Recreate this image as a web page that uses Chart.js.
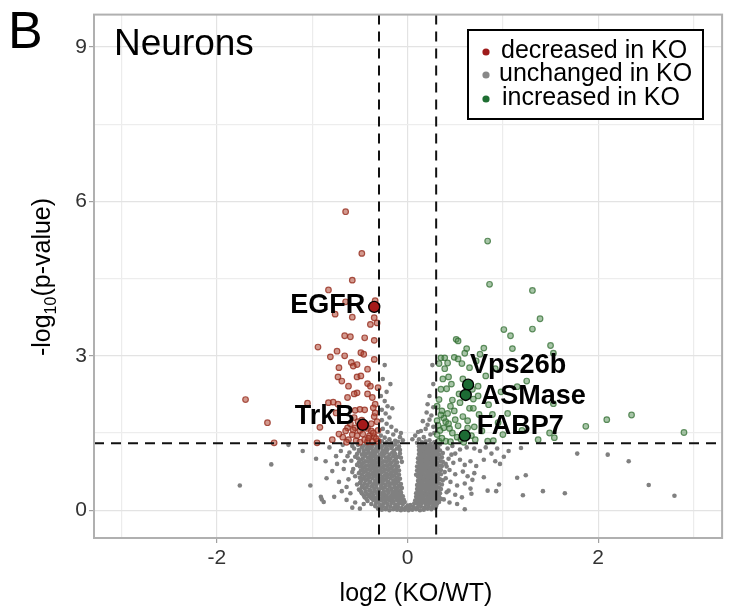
<!DOCTYPE html>
<html><head><meta charset="utf-8">
<script src="https://cdn.jsdelivr.net/npm/chart.js@4.4.1/dist/chart.umd.min.js"></script>
<style>html,body{margin:0;padding:0;background:#fff;}canvas{display:block;}</style>
</head><body>
<canvas id="c" width="729" height="611"></canvas>
<script>
const panelLetter = 'B';
const panelTitle = 'Neurons';
const xTitle = 'log2 (KO/WT)';
const legendLabels = ['decreased in KO', 'unchanged in KO', 'increased in KO'];
const xTickLabels = [-2, 0, 2];
const yTickLabels = [0, 3, 6, 9];
const foldCut = [-0.3, 0.3];
const pCut = 1.3;

const decreased = [
[-0.65,5.80],[-0.48,4.99],[-0.58,4.47],[-0.83,4.28],[-0.65,4.05],[-0.34,4.07],[-0.76,3.81],[-0.58,3.75],[-0.35,3.74],[-0.32,3.64],
[-0.39,3.61],[-0.66,3.39],[-0.60,3.37],[-0.45,3.35],[-0.35,3.30],[-0.94,3.17],[-0.74,3.09],[-0.49,3.06],[-0.46,3.03],[-0.81,2.98],
[-0.66,3.00],[-0.35,2.93],[-0.59,2.87],[-0.53,2.83],[-0.57,2.80],[-0.72,2.77],[-0.42,2.74],[-0.73,2.59],[-0.53,2.59],[-0.49,2.61],
[-0.69,2.51],[-0.42,2.46],[-0.62,2.41],[-0.39,2.41],[-0.31,2.38],[-0.53,2.28],[-0.56,2.26],[-0.42,2.26],[-1.70,2.15],[-0.63,2.19],
[-0.37,2.19],[-1.05,2.08],[-0.83,2.09],[-0.78,2.10],[-0.73,2.06],[-0.34,2.06],[-0.36,1.99],[-0.50,1.96],[-0.45,1.95],[-0.55,1.94],
[-0.75,1.89],[-0.34,1.89],[-1.47,1.70],[-0.52,1.72],[-0.92,1.61],[-0.63,1.60],[-0.55,1.60],[-0.42,1.59],[-0.57,1.56],[-0.50,1.55],
[-0.65,1.54],[-0.38,1.54],[-0.79,1.37],[-0.62,1.37],[-0.45,1.37],[-0.35,1.43],[-1.40,1.31],[-0.95,1.31],[-0.54,1.35],[-0.42,1.33],
[-0.31,1.34],[-0.50,1.32],[-0.64,1.32],[-0.40,1.45],[-0.36,1.50],[-0.47,1.48],[-0.58,1.47],[-0.33,1.39],[-0.44,1.62],[-0.38,1.68],
[-0.48,1.75],[-0.56,1.80],[-0.68,1.42],[-0.72,1.48],[-0.35,1.82],[-0.31,1.55],[-0.32,1.72],[-0.60,1.68],[-0.41,1.40],[-0.53,1.45],
[-0.37,1.33]
];

const increased = [
[0.84,5.23],[0.86,4.39],[1.31,4.27],[1.39,3.72],[1.01,3.51],[1.31,3.52],[1.08,3.39],[0.51,3.32],[0.53,3.29],[1.50,3.20],
[0.80,3.15],[0.62,3.14],[1.10,3.14],[1.53,3.05],[0.35,2.96],[0.39,2.96],[0.49,2.97],[0.53,2.94],[0.76,3.03],[0.33,2.85],
[0.42,2.86],[0.57,2.85],[0.65,2.77],[0.39,2.75],[0.43,2.59],[0.82,2.61],[1.25,2.51],[0.35,2.35],[0.41,2.36],[0.74,2.41],
[0.54,2.26],[0.74,2.22],[0.47,2.14],[0.55,2.09],[0.69,2.16],[1.53,2.07],[0.31,2.02],[0.45,2.02],[0.65,1.98],[0.69,1.98],
[0.36,1.93],[0.42,1.88],[0.49,1.93],[0.75,1.86],[0.89,1.86],[2.35,1.85],[2.09,1.76],[1.87,1.63],[0.31,1.74],[0.40,1.72],
[0.50,1.76],[0.63,1.74],[0.38,1.60],[0.44,1.59],[0.53,1.64],[0.63,1.60],[0.78,1.54],[1.00,1.47],[1.49,1.50],[1.54,1.41],
[1.37,1.37],[2.90,1.51],[0.31,1.47],[0.40,1.34],[0.52,1.42],[0.71,1.37],[0.84,1.34],[0.90,1.35],[0.33,1.34],[0.45,1.33],
[0.59,1.32],[0.38,1.79],[0.34,1.55],[0.36,1.40],[0.47,1.50],[0.56,1.38],[0.67,1.45],[0.70,1.62],[0.58,1.82],[0.33,2.15],
[0.37,2.55],[0.46,2.45],[0.58,2.55],[0.68,2.35],[0.85,2.05],[0.95,1.70],[1.05,1.88],[1.20,1.55],[0.98,2.30],[0.60,3.05],
[0.72,2.90],[0.92,2.75],[1.15,2.40],[0.32,1.65],[0.43,1.68],[0.35,1.85]
];

const unchanged = [
[-0.31,0.03],[-0.27,0.01],[-0.23,0.02],[-0.19,0.00],[-0.15,0.02],[-0.11,0.01],[-0.07,0.00],[-0.03,0.01],[0.01,0.00],[0.05,0.01],
[0.09,0.02],[0.13,0.00],[0.17,0.01],[0.21,0.03],[0.25,0.02],[0.29,0.04],
[-0.34,0.08],[-0.30,0.06],[-0.26,0.07],[-0.22,0.05],[-0.18,0.07],[-0.14,0.05],[-0.10,0.06],[-0.06,0.04],[-0.02,0.05],[0.02,0.04],
[0.06,0.06],[0.10,0.05],[0.14,0.07],[0.18,0.05],[0.22,0.07],[0.26,0.06],[0.30,0.08],[0.00,0.09],[0.03,0.10],
[-0.38,0.12],[-0.33,0.14],[-0.29,0.11],[-0.25,0.13],[-0.21,0.12],[-0.17,0.14],[-0.13,0.11],[-0.09,0.13],[-0.05,0.12],
[-0.42,0.18],[-0.36,0.20],[-0.31,0.17],[-0.27,0.19],[-0.23,0.18],[-0.19,0.20],[-0.15,0.17],[-0.11,0.19],[-0.07,0.18],[-0.03,0.16],
[-0.45,0.25],[-0.40,0.27],[-0.35,0.24],[-0.31,0.26],[-0.26,0.25],[-0.22,0.27],[-0.18,0.24],[-0.14,0.26],[-0.10,0.25],[-0.06,0.23],
[-0.48,0.33],[-0.42,0.31],[-0.37,0.34],[-0.32,0.32],[-0.28,0.33],[-0.24,0.31],[-0.20,0.34],[-0.15,0.32],[-0.11,0.33],[-0.07,0.31],
[-0.51,0.40],[-0.45,0.42],[-0.40,0.39],[-0.35,0.41],[-0.30,0.40],[-0.26,0.42],[-0.21,0.39],[-0.17,0.41],[-0.12,0.40],[-0.08,0.38],
[-0.53,0.50],[-0.47,0.48],[-0.42,0.49],[-0.37,0.47],[-0.33,0.50],[-0.28,0.48],[-0.23,0.49],[-0.19,0.47],[-0.14,0.50],[-0.09,0.48],
[-0.49,0.56],[-0.44,0.58],[-0.39,0.55],[-0.34,0.57],[-0.29,0.56],[-0.25,0.58],[-0.20,0.55],[-0.15,0.57],[-0.10,0.56],
[-0.55,0.66],[-0.50,0.63],[-0.45,0.65],[-0.40,0.64],[-0.35,0.66],[-0.31,0.63],[-0.26,0.65],[-0.21,0.64],[-0.16,0.66],[-0.11,0.63],
[-0.51,0.72],[-0.46,0.74],[-0.41,0.71],[-0.36,0.73],[-0.32,0.72],[-0.27,0.74],[-0.22,0.71],[-0.17,0.73],[-0.12,0.72],
[-0.57,0.80],[-0.47,0.82],[-0.42,0.79],[-0.37,0.81],[-0.33,0.80],[-0.28,0.82],[-0.23,0.79],[-0.18,0.81],[-0.12,0.80],
[-0.53,0.88],[-0.48,0.90],[-0.43,0.87],[-0.38,0.89],[-0.34,0.88],[-0.29,0.90],[-0.24,0.87],[-0.19,0.89],[-0.13,0.88],
[-0.59,0.96],[-0.49,0.98],[-0.44,0.95],[-0.39,0.97],[-0.35,0.96],[-0.30,0.98],[-0.25,0.95],[-0.20,0.97],[-0.14,0.96],
[-0.55,1.04],[-0.45,1.06],[-0.40,1.03],[-0.36,1.05],[-0.31,1.04],[-0.26,1.06],[-0.21,1.03],[-0.15,1.05],[-0.10,1.04],
[-0.61,1.12],[-0.51,1.14],[-0.46,1.11],[-0.41,1.13],[-0.37,1.12],[-0.32,1.14],[-0.27,1.11],[-0.22,1.13],[-0.16,1.12],
[-0.56,1.20],[-0.48,1.22],[-0.43,1.19],[-0.38,1.21],[-0.33,1.20],[-0.28,1.22],[-0.23,1.19],[-0.17,1.21],[-0.11,1.20],
[-0.52,1.27],[-0.44,1.28],[-0.39,1.26],[-0.34,1.29],[-0.29,1.27],[-0.24,1.28],[-0.19,1.26],[-0.13,1.28],
[-0.43,0.22],[-0.38,0.23],[-0.33,0.21],[-0.29,0.22],[-0.24,0.23],[-0.20,0.21],[-0.16,0.22],[-0.12,0.23],[-0.08,0.21],[-0.04,0.20],
[-0.46,0.29],[-0.40,0.30],[-0.36,0.28],[-0.30,0.29],[-0.26,0.30],[-0.22,0.28],[-0.17,0.29],[-0.13,0.30],[-0.09,0.28],[-0.05,0.27],
[-0.49,0.37],[-0.44,0.36],[-0.39,0.38],[-0.34,0.36],[-0.30,0.37],[-0.25,0.36],[-0.21,0.38],[-0.16,0.36],[-0.12,0.37],[-0.07,0.35],
[-0.48,0.45],[-0.43,0.44],[-0.38,0.46],[-0.33,0.44],[-0.28,0.45],[-0.24,0.44],[-0.19,0.46],[-0.14,0.44],[-0.10,0.45],[-0.06,0.43],
[-0.50,0.53],[-0.45,0.52],[-0.40,0.54],[-0.35,0.52],[-0.31,0.53],[-0.26,0.52],[-0.21,0.54],[-0.17,0.52],[-0.12,0.53],[-0.07,0.51],
[-0.47,0.61],[-0.42,0.60],[-0.37,0.62],[-0.32,0.60],[-0.28,0.61],[-0.23,0.60],[-0.18,0.62],[-0.13,0.60],[-0.08,0.61],
[-0.48,0.69],[-0.43,0.68],[-0.38,0.70],[-0.33,0.68],[-0.29,0.69],[-0.24,0.68],[-0.19,0.70],[-0.14,0.68],[-0.09,0.69],
[-0.49,0.77],[-0.44,0.76],[-0.39,0.78],[-0.34,0.76],[-0.30,0.77],[-0.25,0.76],[-0.20,0.78],[-0.15,0.76],[-0.09,0.77],
[-0.50,0.85],[-0.45,0.84],[-0.40,0.86],[-0.36,0.84],[-0.31,0.85],[-0.26,0.84],[-0.21,0.86],[-0.16,0.84],[-0.10,0.85],
[-0.51,0.93],[-0.46,0.92],[-0.41,0.94],[-0.37,0.92],[-0.32,0.93],[-0.27,0.92],[-0.22,0.94],[-0.17,0.92],[-0.11,0.93],[-0.06,0.94],
[-0.52,1.01],[-0.47,1.00],[-0.42,1.02],[-0.38,1.00],[-0.33,1.01],[-0.28,1.00],[-0.23,1.02],[-0.18,1.00],[-0.12,1.01],[-0.07,1.02],
[-0.53,1.09],[-0.48,1.08],[-0.43,1.10],[-0.39,1.08],[-0.34,1.09],[-0.29,1.08],[-0.24,1.10],[-0.19,1.08],[-0.13,1.09],[-0.08,1.10],
[-0.51,1.17],[-0.46,1.16],[-0.41,1.18],[-0.36,1.16],[-0.31,1.17],[-0.26,1.16],[-0.21,1.18],[-0.14,1.16],[-0.08,1.17],
[-0.47,1.24],[-0.42,1.23],[-0.37,1.25],[-0.32,1.23],[-0.27,1.24],[-0.22,1.23],[-0.16,1.25],[-0.09,1.24],
[0.07,0.13],[0.11,0.12],[0.15,0.14],[0.19,0.12],[0.23,0.13],[0.27,0.11],[0.31,0.13],
[0.08,0.19],[0.12,0.18],[0.16,0.20],[0.20,0.18],[0.24,0.19],[0.28,0.17],[0.32,0.19],[0.38,0.21],
[0.09,0.26],[0.13,0.25],[0.17,0.27],[0.21,0.25],[0.25,0.26],[0.29,0.24],[0.33,0.26],
[0.09,0.33],[0.13,0.32],[0.17,0.34],[0.21,0.32],[0.25,0.33],[0.29,0.31],[0.34,0.33],[0.41,0.35],
[0.10,0.41],[0.14,0.40],[0.18,0.42],[0.22,0.40],[0.26,0.41],[0.30,0.39],[0.35,0.41],
[0.10,0.49],[0.14,0.48],[0.18,0.50],[0.22,0.48],[0.26,0.49],[0.30,0.47],[0.36,0.50],
[0.11,0.57],[0.15,0.56],[0.19,0.58],[0.23,0.56],[0.27,0.57],[0.31,0.55],[0.37,0.58],
[0.11,0.65],[0.15,0.64],[0.19,0.66],[0.23,0.64],[0.27,0.65],[0.32,0.63],
[0.12,0.73],[0.16,0.72],[0.20,0.74],[0.24,0.72],[0.28,0.73],[0.33,0.71],[0.39,0.74],
[0.12,0.81],[0.16,0.80],[0.20,0.82],[0.24,0.80],[0.28,0.81],[0.33,0.79],
[0.13,0.89],[0.17,0.88],[0.21,0.90],[0.25,0.88],[0.29,0.89],[0.34,0.87],[0.40,0.90],
[0.13,0.97],[0.17,0.96],[0.21,0.98],[0.25,0.96],[0.29,0.97],[0.35,0.95],
[0.14,1.05],[0.18,1.04],[0.22,1.06],[0.26,1.04],[0.30,1.05],[0.36,1.03],
[0.14,1.13],[0.18,1.12],[0.22,1.14],[0.26,1.12],[0.31,1.13],[0.37,1.11],
[0.15,1.21],[0.19,1.20],[0.23,1.22],[0.27,1.20],[0.32,1.21],
[0.15,1.28],[0.20,1.27],[0.24,1.29],[0.28,1.26],[0.34,1.28],
[0.09,0.16],[0.13,0.15],[0.17,0.17],[0.21,0.15],[0.25,0.16],[0.29,0.15],[0.33,0.16],
[0.10,0.22],[0.14,0.23],[0.18,0.21],[0.22,0.22],[0.26,0.23],[0.30,0.21],[0.35,0.22],
[0.11,0.30],[0.15,0.29],[0.19,0.30],[0.23,0.28],[0.27,0.30],[0.31,0.29],
[0.11,0.37],[0.15,0.36],[0.19,0.38],[0.23,0.36],[0.28,0.37],[0.32,0.36],
[0.12,0.45],[0.16,0.44],[0.20,0.46],[0.24,0.44],[0.28,0.45],[0.33,0.44],
[0.12,0.53],[0.16,0.52],[0.20,0.54],[0.24,0.52],[0.28,0.53],[0.33,0.52],
[0.13,0.61],[0.17,0.60],[0.21,0.62],[0.25,0.60],[0.29,0.61],[0.34,0.60],
[0.09,0.69],[0.13,0.68],[0.17,0.70],[0.21,0.68],[0.25,0.69],[0.30,0.68],[0.35,0.70],
[0.10,0.77],[0.14,0.76],[0.18,0.78],[0.22,0.76],[0.26,0.77],[0.30,0.76],[0.35,0.78],
[0.10,0.85],[0.14,0.84],[0.18,0.86],[0.22,0.84],[0.26,0.85],[0.31,0.84],[0.36,0.86],
[0.11,0.93],[0.15,0.92],[0.19,0.94],[0.23,0.92],[0.27,0.93],[0.31,0.92],[0.37,0.94],
[0.11,1.01],[0.15,1.00],[0.19,1.02],[0.23,1.00],[0.27,1.01],[0.32,1.00],
[0.12,1.09],[0.16,1.08],[0.20,1.10],[0.24,1.08],[0.28,1.09],[0.33,1.08],
[0.12,1.17],[0.16,1.16],[0.20,1.18],[0.24,1.16],[0.28,1.17],[0.34,1.16],
[0.12,1.24],[0.17,1.23],[0.21,1.25],[0.25,1.23],[0.30,1.24],
[-0.24,2.82],[-0.26,2.55],[-0.22,2.30],[-0.28,2.22],[-0.24,2.12],[-0.21,2.02],[-0.27,1.95],[-0.23,1.88],[-0.19,1.80],[-0.27,1.75],
[-0.22,1.68],[-0.17,1.62],[-0.26,1.58],[-0.21,1.52],[-0.15,1.47],[-0.28,1.45],[-0.24,1.41],[-0.19,1.38],[-0.13,1.35],[-0.27,1.34],
[-0.22,1.32],[-0.17,1.31],[-0.10,1.33],[-0.08,1.42],[-0.05,1.36],[-0.12,1.55],[-0.07,1.50],[-0.18,2.45],[-0.16,1.98],
[0.26,2.82],[0.27,2.45],[0.23,2.22],[0.21,2.06],[0.27,2.00],[0.20,1.90],[0.25,1.84],[0.16,1.73],[0.23,1.76],[0.21,1.66],
[0.27,1.62],[0.14,1.54],[0.19,1.58],[0.24,1.47],[0.28,1.50],[0.17,1.42],[0.12,1.38],[0.19,1.34],[0.23,1.36],[0.28,1.32],
[0.10,1.31],[0.15,1.32],[0.05,1.38],[0.08,1.45],[0.11,1.52],
[-1.76,0.48],[-1.43,0.89],[-1.25,1.27],[-1.02,0.48],[-0.90,0.21],[-0.88,0.16],[-0.79,0.76],[-0.69,0.37],[-0.91,0.26],[-0.77,0.26],
[-0.72,0.55],[-0.66,0.95],[-0.70,1.15],[-0.75,1.05],[-0.82,1.22],[-0.64,0.20],[-0.60,0.33],[-0.62,0.60],[-0.67,0.80],[-0.85,0.62],
[-0.96,1.00],[-0.58,0.05],[-0.50,0.03],[-0.46,0.12],[-0.55,0.15],[-0.63,1.05],[-0.68,1.27],[-0.58,1.25],[-0.74,0.90],[-1.10,1.15],
[-0.86,0.95],[-0.64,0.45],[-0.58,0.74],
[0.42,1.20],[0.47,1.25],[0.50,1.10],[0.55,1.18],[0.62,1.22],[0.70,1.20],[0.76,1.15],[0.82,1.22],[0.88,1.10],[0.94,1.20],
[1.01,1.04],[1.06,1.15],[1.19,1.21],[0.43,1.00],[0.48,0.92],[0.55,0.98],[0.60,0.88],[0.66,0.95],[0.72,0.86],[0.80,0.98],
[0.92,0.95],[0.97,0.90],[0.44,0.78],[0.50,0.70],[0.58,0.75],[0.63,0.66],[0.70,0.72],[0.80,0.64],[0.45,0.55],[0.52,0.48],
[0.60,0.52],[0.66,0.42],[0.68,0.59],[0.43,0.38],[0.50,0.30],[0.57,0.25],[0.67,0.32],[0.44,0.15],[0.52,0.12],[0.60,0.02],
[0.84,0.38],[0.93,0.37],[0.96,0.50],[1.15,0.63],[1.24,0.68],[1.21,0.29],[1.42,0.37],[1.65,0.33],[1.78,1.10],[2.10,1.08],
[2.32,0.95],[2.53,0.49],[2.80,0.28],[0.40,0.62],[0.41,0.85],[0.46,1.08]
];

const markedNames = ['EGFR', 'TrkB', 'Vps26b', 'ASMase', 'FABP7'];
const markedX = [-0.35, -0.47, 0.635, 0.61, 0.60];
const markedY = [3.95, 1.66, 2.44, 2.24, 1.45];
const markedGroup = ['dec', 'dec', 'inc', 'inc', 'inc'];

const FONT = '"Liberation Sans", Arial, Helvetica, sans-serif';
const toXY = arr => arr.map(p => ({x: p[0], y: p[1]}));
const isMult = (v, m) => Math.abs(v - Math.round(v / m) * m) < 1e-6;

// label placement relative to the marker (pixels, styling only)
const labelStyle = {
  EGFR:  {align: 'right', dx: -9, dy: 6},
  TrkB:  {align: 'right', dx: -8, dy: -1},
  Vps26b:{align: 'left', dx: 2, dy: -12},
  ASMase:{align: 'left', dx: 15, dy: 9},
  FABP7: {align: 'left', dx: 12, dy: -2}
};

const overlay = {
  id: 'overlay',
  afterDatasetDraw(chart, args) {
    if (args.index !== 1) return;
    const {ctx, chartArea: a, scales: {x, y}} = chart;
    ctx.save();
    ctx.beginPath(); ctx.rect(a.left, a.top, a.right - a.left, a.bottom - a.top); ctx.clip();
    ctx.strokeStyle = '#111'; ctx.lineWidth = 2; ctx.setLineDash([10, 7]);
    foldCut.forEach(v => {
      const px = x.getPixelForValue(v);
      ctx.beginPath(); ctx.moveTo(px, a.top); ctx.lineTo(px, a.bottom); ctx.stroke();
    });
    const py = y.getPixelForValue(pCut);
    ctx.beginPath(); ctx.moveTo(a.left, py); ctx.lineTo(a.right, py); ctx.stroke();
    ctx.restore();
  },
  afterDraw(chart) {
    const {ctx, chartArea: a, scales: {x, y}} = chart;
    ctx.save();
    ctx.strokeStyle = '#b0b0b0'; ctx.lineWidth = 2;
    ctx.strokeRect(a.left, a.top, a.right - a.left, a.bottom - a.top);
    ctx.fillStyle = '#000'; ctx.font = 'bold 27px ' + FONT; ctx.textBaseline = 'alphabetic';
    markedNames.forEach((n, i) => {
      const s = labelStyle[n];
      ctx.textAlign = s.align;
      ctx.fillText(n, x.getPixelForValue(markedX[i]) + s.dx, y.getPixelForValue(markedY[i]) + s.dy);
    });
    ctx.textAlign = 'left';
    ctx.font = '52px ' + FONT; ctx.fillText(panelLetter, 8, 48);
    ctx.font = '37px ' + FONT; ctx.fillText(panelTitle, 114, 55);
    ctx.fillStyle = '#fff'; ctx.fillRect(468, 30, 235, 89);
    ctx.strokeStyle = '#000'; ctx.lineWidth = 2; ctx.strokeRect(468, 30, 235, 89);
    const legColors = ['#9e1b1b', '#888888', '#1e6e32'];
    const legBase = [57.5, 80.5, 104.5];
    const legX = [501, 499, 502];
    ctx.font = '25px ' + FONT;
    legendLabels.forEach((t, i) => {
      ctx.fillStyle = legColors[i];
      ctx.beginPath(); ctx.arc(486, legBase[i] - 5.5, 3.6, 0, Math.PI * 2); ctx.fill();
      ctx.fillStyle = '#000'; ctx.fillText(t, legX[i], legBase[i]);
    });
    ctx.textAlign = 'center'; ctx.font = '25px ' + FONT;
    ctx.fillText(xTitle, 416, 601);
    ctx.translate(50, 277); ctx.rotate(-Math.PI / 2);
    const p1 = '-log', sub = '10', p2 = '(p-value)';
    ctx.font = '25px ' + FONT; const w1 = ctx.measureText(p1).width, w3 = ctx.measureText(p2).width;
    ctx.font = '16px ' + FONT; const w2 = ctx.measureText(sub).width;
    let sx = -(w1 + w2 + w3) / 2;
    ctx.textAlign = 'left';
    ctx.font = '25px ' + FONT; ctx.fillText(p1, sx, 0); sx += w1;
    ctx.font = '16px ' + FONT; ctx.fillText(sub, sx, 6); sx += w2;
    ctx.font = '25px ' + FONT; ctx.fillText(p2, sx, 0);
    ctx.restore();
  }
};

new Chart(document.getElementById('c'), {
  type: 'scatter',
  data: {
    datasets: [
      {label: 'marked', data: markedX.map((v, i) => ({x: v, y: markedY[i]})),
       pointRadius: 5.5, pointBackgroundColor: markedGroup.map(g => g === 'dec' ? '#a51a1a' : '#1c6b34'),
       pointBorderColor: '#000', pointBorderWidth: 1.4},
      {label: legendLabels[2], data: toXY(increased), pointRadius: 2.8,
       pointBackgroundColor: 'rgba(80,140,80,0.5)', pointBorderColor: 'rgba(50,110,50,0.75)', pointBorderWidth: 1.2},
      {label: legendLabels[0], data: toXY(decreased), pointRadius: 2.8,
       pointBackgroundColor: 'rgba(175,70,50,0.55)', pointBorderColor: 'rgba(150,45,30,0.8)', pointBorderWidth: 1.2},
      {label: legendLabels[1], data: toXY(unchanged), pointRadius: 2.3,
       pointBackgroundColor: '#808080', pointBorderWidth: 0, pointBorderColor: 'rgba(0,0,0,0)'}
    ]
  },
  options: {
    responsive: false, animation: false, devicePixelRatio: 1, events: [],
    layout: {padding: {top: 13, right: 2, left: 0, bottom: 0}},
    plugins: {legend: {display: false}, tooltip: {enabled: false}},
    scales: {
      x: {
        type: 'linear', min: -3.29, max: 3.30,
        afterFit: s => { s.height = 73; },
        border: {display: false},
        grid: {color: c => isMult(c.tick.value, 2) ? '#e3e3e3' : '#ececec', lineWidth: 1.2,
               tickLength: 5, tickColor: c => xTickLabels.some(t => Math.abs(c.tick.value - t) < 1e-6) ? '#a0a0a0' : 'rgba(0,0,0,0)'},
        ticks: {stepSize: 1, includeBounds: false, autoSkip: false, maxRotation: 0, padding: 3,
                color: '#333', font: {family: FONT, size: 21},
                callback: v => xTickLabels.some(t => Math.abs(t - v) < 1e-6) ? String(v) : ''}
      },
      y: {
        type: 'linear', min: -0.54, max: 9.63,
        afterFit: s => { s.width = 94; },
        border: {display: false},
        grid: {color: c => isMult(c.tick.value, 3) ? '#e3e3e3' : '#ededed', lineWidth: 1.2,
               tickLength: 5, tickColor: c => yTickLabels.some(t => Math.abs(t - c.tick.value) < 1e-6) ? '#a0a0a0' : 'rgba(0,0,0,0)'},
        ticks: {stepSize: 1.5, includeBounds: false, padding: 2,
                color: '#333', font: {family: FONT, size: 21},
                callback: v => yTickLabels.some(t => Math.abs(t - v) < 1e-6) ? String(v) : ''}
      }
    }
  },
  plugins: [overlay]
});
</script>
</body></html>
